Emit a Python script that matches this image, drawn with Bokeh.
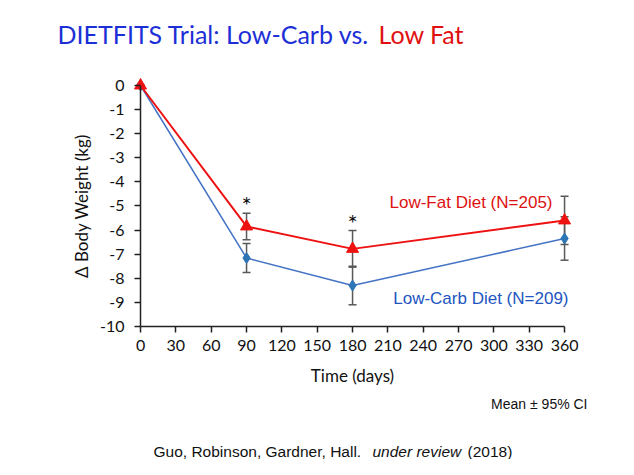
from bokeh.plotting import figure
from bokeh.models import (ColumnDataSource, Whisker, TeeHead, Label, FixedTicker, Range1d)
from bokeh.embed import file_html
from bokeh.resources import INLINE

# ---- data ----
days = [0, 90, 180, 360]
low_fat = [0.0, -5.85, -6.78, -5.60]
low_fat_ci = [0.0, 0.55, 0.76, 1.0]
low_carb = [0.0, -7.16, -8.30, -6.35]
low_carb_ci = [0.0, 0.60, 0.80, 0.90]

x_ticks = [0, 30, 60, 90, 120, 150, 180, 210, 240, 270, 300, 330, 360]
x_tick_labels = [str(t) for t in x_ticks]
y_ticks = [0, -1, -2, -3, -4, -5, -6, -7, -8, -9, -10]
y_tick_labels = ["0", "-1", "-2", "-3", "-4", "-5", "-6", "-7", "-8", "-9", "-10"]

star_days = [90, 180]
star_y = [-4.95, -5.68]

RED = "#EE1111"
BLUE = "#4472C4"
BLUE_M = "#2E75B6"
GRAY = "#595959"
TXT = "#111111"

W, H = 618, 459
p = figure(width=W, height=H, output_backend="svg", toolbar_location=None,
           x_range=Range1d(-118.9, 405.8), y_range=Range1d(-15.52, 3.527),
           min_border=0)
p.outline_line_color = None
p.xgrid.visible = False
p.ygrid.visible = False
p.background_fill_color = "white"
p.border_fill_color = "white"

# axes
xa = p.xaxis[0]
xa.fixed_location = -10
xa.bounds = (0, 360)
xa.ticker = FixedTicker(ticks=x_ticks)
xa.major_label_overrides = {t: l for t, l in zip(x_ticks, x_tick_labels)}
xa.minor_tick_line_color = None
xa.major_tick_out = 6
xa.major_tick_in = 0
xa.axis_line_width = 1.5
xa.major_tick_line_width = 1.5
xa.axis_line_color = "#222222"
xa.major_tick_line_color = "#222222"
xa.major_label_text_font = "Lato"
xa.major_label_text_font_size = "16px"
xa.major_label_text_color = TXT
xa.major_label_standoff = 8
xa.axis_label = "Time (days)"
xa.axis_label_text_font = "Lato"
xa.axis_label_text_font_size = "17px"
xa.axis_label_text_font_style = "normal"
xa.axis_label_text_color = TXT
xa.axis_label_standoff = 10

ya = p.yaxis[0]
ya.fixed_location = 0
ya.bounds = (-10, 0)
ya.ticker = FixedTicker(ticks=y_ticks)
ya.major_label_overrides = {t: l for t, l in zip(y_ticks, y_tick_labels)}
ya.minor_tick_line_color = None
ya.major_tick_out = 6
ya.major_tick_in = 0
ya.axis_line_width = 1.5
ya.major_tick_line_width = 1.5
ya.axis_line_color = "#222222"
ya.major_tick_line_color = "#222222"
ya.major_label_text_font = "Lato"
ya.major_label_text_font_size = "16px"
ya.major_label_text_color = TXT
ya.major_label_standoff = 10
ya.axis_label = "\u0394 Body Weight (kg)"
ya.axis_label_text_font = "Lato"
ya.axis_label_text_font_size = "17px"
ya.axis_label_text_font_style = "normal"
ya.axis_label_text_color = TXT
ya.axis_label_standoff = 5

fat_src = ColumnDataSource(dict(x=days, y=low_fat,
                                lo=[v - c for v, c in zip(low_fat, low_fat_ci)],
                                hi=[v + c for v, c in zip(low_fat, low_fat_ci)]))
carb_src = ColumnDataSource(dict(x=days, y=low_carb,
                                 lo=[v - c for v, c in zip(low_carb, low_carb_ci)],
                                 hi=[v + c for v, c in zip(low_carb, low_carb_ci)]))

for src in (carb_src, fat_src):
    w = Whisker(base="x", upper="hi", lower="lo", source=src, level="underlay",
                line_color=GRAY, line_width=1.5,
                upper_head=TeeHead(size=8, line_color=GRAY, line_width=1.5),
                lower_head=TeeHead(size=8, line_color=GRAY, line_width=1.5))
    p.add_layout(w)

p.line("x", "y", source=carb_src, line_color=BLUE, line_width=1.5)
p.line("x", "y", source=fat_src, line_color=RED, line_width=2)
p.scatter("x", "y", source=carb_src, marker="diamond", size=11,
          fill_color=BLUE_M, line_color=BLUE_M)
p.scatter("x", "y", source=fat_src, marker="triangle", size=12,
          fill_color=RED, line_color=RED)

# significance stars
for d, sy in zip(star_days, star_y):
    p.add_layout(Label(x=d, y=sy, text="*", text_font="Lato", text_font_size="24px",
                       text_color=TXT, text_align="center", text_baseline="middle"))

def lab(x, y, text, font, size, color, align, style="normal"):
    p.add_layout(Label(x=x, y=H - y, x_units="screen", y_units="screen",
                       text=text, text_font=font, text_font_size=size,
                       text_color=color, text_align=align, text_baseline="middle",
                       text_font_style=style))

# series labels
lab(552, 202, "Low-Fat Diet (N=205)", "Liberation Sans", "17px", "#DD1111", "right")
lab(568, 298, "Low-Carb Diet (N=209)", "Liberation Sans", "17px", "#2255C0", "right")
# title
lab(369, 33, "DIETFITS Trial: Low-Carb vs.", "Lato", "25px", "#1C2FD6", "right")
lab(378, 33, "Low Fat", "Lato", "25px", "#E01010", "left")
# notes
lab(587, 403, "Mean \u00b1 95% CI", "Liberation Sans", "14px", TXT, "right")
lab(153, 451, "Guo, Robinson, Gardner, Hall.", "Liberation Sans", "15.5px", TXT, "left")
lab(372, 451, "under review", "Liberation Sans", "15.5px", TXT, "left", "italic")
lab(467, 451, "(2018)", "Liberation Sans", "15.5px", TXT, "left")

open("out.html", "w").write(file_html(p, INLINE))
